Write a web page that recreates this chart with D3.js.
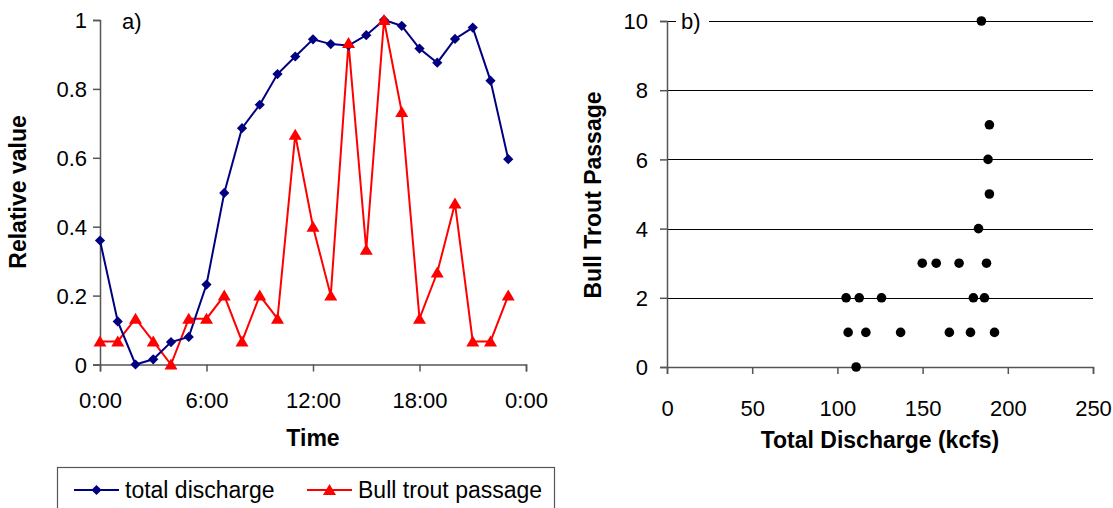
<!DOCTYPE html>
<html>
<head>
<meta charset="utf-8">
<script src="https://cdn.jsdelivr.net/npm/d3@7"></script>
<style>
  body { margin: 0; background: #fff; }
  svg { font-family: "Liberation Sans", Arial, sans-serif; }
</style>
</head>
<body>
<div class="canvas"></div>
<script>
// panel a) hourly relative values
const hours = [0,1,2,3,4,5,6,7,8,9,10,11,12,13,14,15,16,17,18,19,20,21,22,23];
const discharge = [0.36,0.125,0.0,0.015,0.065,0.08,0.232,0.498,0.686,0.754,0.843,0.894,
  0.944,0.930,0.926,0.956,1.0,0.983,0.917,0.876,0.945,0.978,0.824,0.596];
const trout = [0.067,0.067,0.133,0.067,0,0.133,0.133,0.2,0.067,0.2,0.133,0.667,
  0.4,0.2,0.933,0.333,1.0,0.733,0.133,0.267,0.467,0.067,0.067,0.2];
const timeTicks = [0,6,12,18,24];
const relTicks = [0,0.2,0.4,0.6,0.8,1];

// panel b) scatter
const kcfs = [184.5,189.2,188.4,189.2,182.8,149.8,158.0,171.4,187.5,105.1,112.8,125.9,179.8,186.3,
  106.3,116.7,137.1,165.7,178.1,192.2,111.0];
const passage = [10,7,6,5,4,3,3,3,3,2,2,2,2,2,1,1,1,1,1,1,0];
const dischTicks = [0,50,100,150,200,250];
const passTicks = [0,2,4,6,8,10];

const svg = d3.select('.canvas')
  .append('svg')
    .attr('width', 1113)
    .attr('height', 508);

const axisColor = '#555';
const tickSize = 22;
const titleSize = 23;

// ---------- panel a ----------
const xA = d3.scaleLinear().domain([0,24]).range([100,526]);
const yA = d3.scaleLinear().domain([0,1]).range([364.5,20]);

const xAxisA = d3.axisBottom(xA)
  .tickValues(timeTicks)
  .tickSize(7)
  .tickFormat(d => (d % 24) + ':00');
const yAxisA = d3.axisLeft(yA)
  .tickValues(relTicks)
  .tickSize(7)
  .tickFormat(d => d3.format('')(+d.toFixed(1)));

const gxA = svg.append('g').attr('transform', `translate(0,${yA(0)})`).call(xAxisA);
const gyA = svg.append('g').attr('transform', `translate(${xA(0)},0)`).call(yAxisA);

// ---------- panel b ----------
const xB = d3.scaleLinear().domain([0,250]).range([667,1093]);
const yB = d3.scaleLinear().domain([0,10]).range([367,21]);

// gridlines
svg.append('g')
  .selectAll('line')
  .data(passTicks.filter(d => d > 0))
  .enter()
  .append('line')
    .attr('x1', xB(0))
    .attr('x2', xB(250))
    .attr('y1', d => Math.round(yB(d)) + 0.5)
    .attr('y2', d => Math.round(yB(d)) + 0.5)
    .attr('stroke', '#000')
    .attr('stroke-width', 1.2);

const xAxisB = d3.axisBottom(xB).tickValues(dischTicks).tickSize(7);
const yAxisB = d3.axisLeft(yB).tickValues(passTicks).tickSize(7);
const gxB = svg.append('g').attr('transform', `translate(0,${yB(0)})`).call(xAxisB);
const gyB = svg.append('g').attr('transform', `translate(${xB(0)},0)`).call(yAxisB);

[gxA, gyA, gxB, gyB].forEach(g => {
  g.select('.domain').attr('stroke', axisColor).attr('stroke-width', 1.5);
  g.selectAll('.tick line').attr('stroke', axisColor).attr('stroke-width', 1.5);
  g.selectAll('.tick text')
    .attr('fill', '#000')
    .attr('font-size', tickSize)
    .attr('font-family', '"Liberation Sans", Arial, sans-serif');
});
gxA.selectAll('.tick text').attr('y', 0).attr('dy', 43);
gxB.selectAll('.tick text').attr('y', 0).attr('dy', 49);
gyA.selectAll('.tick text').attr('x', -13).attr('dy', '0.35em');
gyB.selectAll('.tick text').attr('x', -19).attr('dy', '0.35em');

// panel a lines
const lineD = d3.line().x((d,i) => xA(hours[i])).y(d => yA(d));
svg.append('path')
  .attr('d', lineD(trout))
  .attr('fill', 'none')
  .attr('stroke', '#ff0000')
  .attr('stroke-width', 2);
svg.append('path')
  .attr('d', lineD(discharge))
  .attr('fill', 'none')
  .attr('stroke', '#000080')
  .attr('stroke-width', 2);

const diamond = d3.symbol().type(d3.symbolSquare).size(52)();
const triangle = 'M0,-6L6.5,5L-6.5,5Z';

svg.append('g').selectAll('path')
  .data(discharge)
  .enter()
  .append('path')
    .attr('d', diamond)
    .attr('transform', (d,i) => `translate(${xA(hours[i])},${yA(d)}) rotate(45)`)
    .attr('fill', '#000080');

svg.append('g').selectAll('path')
  .data(trout)
  .enter()
  .append('path')
    .attr('d', triangle)
    .attr('transform', (d,i) => `translate(${xA(hours[i])},${yA(d)})`)
    .attr('fill', '#ff0000');

// panel b dots
svg.append('g').selectAll('circle')
  .data(kcfs)
  .enter()
  .append('circle')
    .attr('cx', d => xB(d))
    .attr('cy', (d,i) => yB(passage[i]))
    .attr('r', 4.8)
    .attr('fill', '#000');

// panel labels
svg.append('text').attr('x', 122).attr('y', 29).attr('font-size', tickSize).text('a)');
svg.append('rect').attr('x', 676).attr('y', 8).attr('width', 33).attr('height', 26).attr('fill', '#fff');
svg.append('text').attr('x', 681).attr('y', 29).attr('font-size', tickSize).text('b)');

// axis titles
svg.append('text')
  .attr('transform', 'translate(26,192) rotate(-90)')
  .attr('text-anchor', 'middle')
  .attr('font-size', titleSize).attr('font-weight', 'bold')
  .text('Relative value');
svg.append('text')
  .attr('x', 313).attr('y', 446)
  .attr('text-anchor', 'middle')
  .attr('font-size', titleSize).attr('font-weight', 'bold')
  .text('Time');
svg.append('text')
  .attr('transform', 'translate(601,195) rotate(-90)')
  .attr('text-anchor', 'middle')
  .attr('font-size', titleSize).attr('font-weight', 'bold')
  .text('Bull Trout Passage');
svg.append('text')
  .attr('x', 880).attr('y', 448)
  .attr('text-anchor', 'middle')
  .attr('font-size', titleSize).attr('font-weight', 'bold')
  .text('Total Discharge (kcfs)');

// legend
const legend = svg.append('g');
legend.append('rect')
  .attr('x', 57.5).attr('y', 467.5)
  .attr('width', 497).attr('height', 60)
  .attr('fill', '#fff').attr('stroke', '#555').attr('stroke-width', 1.2);
const legendItems = [
  {label: 'total discharge', color: '#000080', shape: diamond, rot: 45, x: 74},
  {label: 'Bull trout passage', color: '#ff0000', shape: triangle, rot: 0, x: 307}
];
legendItems.forEach(it => {
  legend.append('line')
    .attr('x1', it.x).attr('x2', it.x + 45)
    .attr('y1', 490).attr('y2', 490)
    .attr('stroke', it.color).attr('stroke-width', 2);
  legend.append('path')
    .attr('d', it.shape)
    .attr('transform', `translate(${it.x + 22.5},490) rotate(${it.rot})`)
    .attr('fill', it.color);
  legend.append('text')
    .attr('x', it.x + 51).attr('y', 498)
    .attr('font-size', titleSize)
    .text(it.label);
});
</script>
</body>
</html>
